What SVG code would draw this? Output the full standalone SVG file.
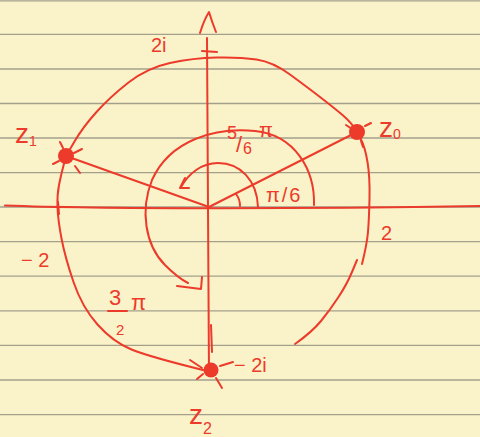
<svg xmlns="http://www.w3.org/2000/svg" width="480" height="437" viewBox="0 0 480 437">
  <style>
    .rule { stroke: #a39f8c; stroke-width: 1.3; }
    .ink { fill: none; stroke: #ec3a2b; stroke-width: 2; stroke-linecap: round; stroke-linejoin: round; }
    .dot { fill: #ec3a2b; }
    .lbl { fill: #ec3a2b; font-family: "Liberation Sans", "DejaVu Sans", sans-serif; }
  </style>
  <rect width="480" height="437" fill="#faf3c9"/>
  <g id="paper">
    <line class="rule" x1="0" y1="0.8" x2="480" y2="0.8"/>
    <line class="rule" x1="0" y1="34.4" x2="480" y2="34.4"/>
    <line class="rule" x1="0" y1="69" x2="480" y2="69"/>
    <line class="rule" x1="0" y1="103.5" x2="480" y2="103.5"/>
    <line class="rule" x1="0" y1="138" x2="480" y2="138"/>
    <line class="rule" x1="0" y1="172.6" x2="480" y2="172.6"/>
    <line class="rule" x1="0" y1="207" x2="480" y2="207"/>
    <line class="rule" x1="0" y1="241.6" x2="480" y2="241.6"/>
    <line class="rule" x1="0" y1="276.2" x2="480" y2="276.2"/>
    <line class="rule" x1="0" y1="310.8" x2="480" y2="310.8"/>
    <line class="rule" x1="0" y1="345.3" x2="480" y2="345.3"/>
    <line class="rule" x1="0" y1="380" x2="480" y2="380"/>
    <line class="rule" x1="0" y1="414.6" x2="480" y2="414.6"/>
  </g>
  <g id="connectors">
    <!-- axes -->
    <path class="ink" d="M5,205.5 C100,209 300,209 480,206"/>
    <path class="ink" d="M207,38 L209,376"/>
    <path class="ink" d="M211,325 L212,352"/>
    <path class="ink" d="M200,33 Q204,20 209,12 Q212,22 216,32"/>
    <path class="ink" d="M202,51 L217,52"/>
    <path class="ink" d="M58,202 L59,214"/>
    <!-- radii -->
    <path class="ink" d="M209,207 L357,132"/>
    <path class="ink" d="M209,207 L66,156"/>
    <!-- outer spiral -->
    <path class="ink" d="M66,156 L74.5,141.5 Q83,127 96.5,112 Q110,97 128.5,82.5 Q147,68 170,63 Q193,58 216.5,57.5 Q240,57 256.5,59.5 Q273,62 290,74.5 Q307,87 320,97 Q333,107 342.5,115 Q352,123 357,132"/>
    <path class="ink" d="M66,156 L63.5,165.5 Q61,175 59,185 Q57,195 57.5,207.5 Q58,220 61.5,238.5 Q65,257 73.5,282 Q82,307 97.5,324.5 Q113,342 131.5,349.5 Q150,357 207,371"/>
    <path class="ink" d="M357,132 L361,139.5 Q365,147 367.5,162 Q370,177 369.5,198.5 Q369,220 368,232 Q367,244 362,264"/>
    <path class="ink" d="M357,260 L352,272 Q347,284 338.5,297 Q330,310 321,321 Q312,332 295,344"/>
    <!-- angle arcs -->
    <path class="ink" d="M240,206 Q240,199 236,194"/>
    <path class="ink" d="M258,207 C257,180 240,163 218,163 C202,163 189,173 181,187"/>
    <path class="ink" d="M185,178 L180,188 L189,188"/>
    <path class="ink" d="M314,205 C315,170 295,135 255,131 C215,127 170,140 152,180 C140,210 145,245 165,265 C172,272 180,279 188,283"/>
    <path class="ink" d="M177,286 L201,289 L202,277"/>
  </g>
  <g id="z0">
    <circle class="dot" cx="357" cy="132" r="8"/>
    <path class="ink" d="M346,125 L352,129 M371,123 L365,126 M363,147 L361,141"/>
    <text class="lbl" x="379" y="137" font-size="28">z<tspan font-size="14" dy="2">0</tspan></text>
  </g>
  <g id="z1">
    <circle class="dot" cx="66" cy="156" r="8"/>
    <path class="ink" d="M60,142 L63,148 M82,149 L74,153 M53,164 L59,161 M80,173 L75,166"/>
    <text class="lbl" x="15" y="143" font-size="28">z<tspan font-size="14" dy="3">1</tspan></text>
  </g>
  <g id="z2">
    <circle class="dot" cx="211" cy="370" r="7.5"/>
    <path class="ink" d="M190,360 L202,368 M197,379 L203,374 M222,388 L216,378 M233,362 L220,366"/>
    <text class="lbl" x="189" y="424" font-size="28">z<tspan font-size="16" dy="10">2</tspan></text>
  </g>
  <g id="labels">
    <text class="lbl" x="151" y="52" font-size="20">2i</text>
    <text class="lbl" x="234" y="372" font-size="20">− 2i</text>
    <text class="lbl" x="381" y="240" font-size="20">2</text>
    <text class="lbl" x="21" y="267" font-size="20">− 2</text>
    <text class="lbl" font-size="18"><tspan x="227" y="139">5</tspan><tspan x="236" y="152" font-size="22">/</tspan><tspan x="243" y="154" font-size="16">6</tspan><tspan x="259" y="137" font-size="20">π</tspan></text>
    <text class="lbl" x="266" y="202" font-size="20" letter-spacing="2">π/6</text>
    <text class="lbl" font-size="22"><tspan x="109" y="305">3</tspan><tspan x="116" y="335" font-size="15">2</tspan><tspan x="131" y="310">π</tspan></text>
    <path class="ink" d="M108,311 L127,311"/>
  </g>
</svg>
